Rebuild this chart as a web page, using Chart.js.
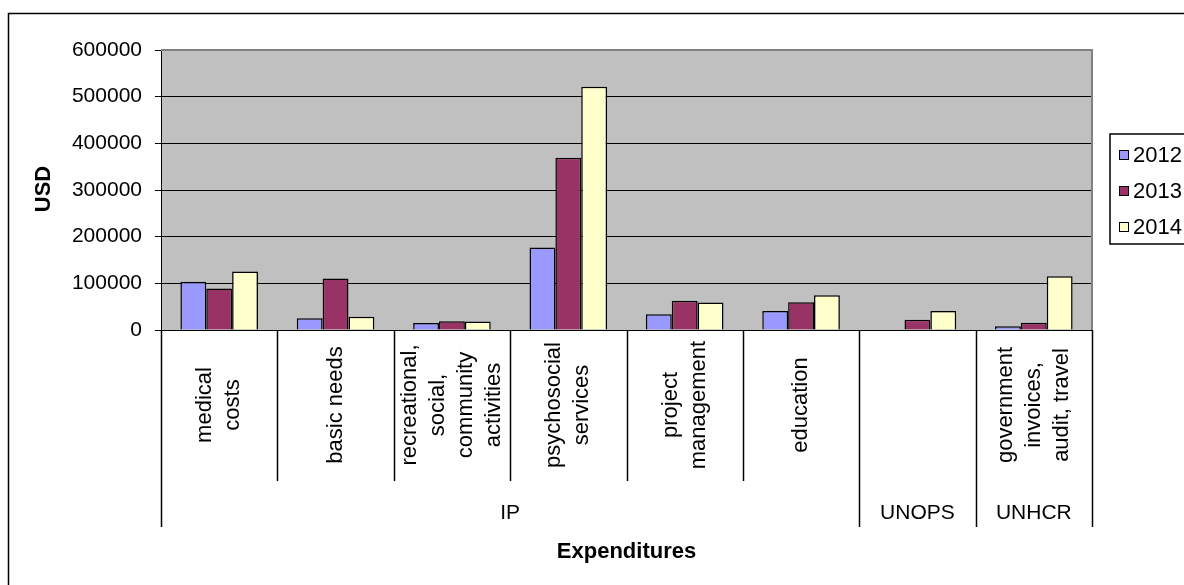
<!DOCTYPE html>
<html>
<head>
<meta charset="utf-8">
<script src="https://cdn.jsdelivr.net/npm/chart.js@4.4.1/dist/chart.umd.min.js"></script>
<style>
  html, body { margin: 0; padding: 0; background: #fff; }
  #wrap { width: 1184px; height: 585px; }
</style>
</head>
<body>
<div id="wrap"><canvas id="myChart" width="1184" height="585"></canvas></div>
<script>
// expenditure lines, one entry per category (lines of the rotated label)
const categories = [
  ['medical', 'costs'],
  ['basic needs'],
  ['recreational,', 'social,', 'community', 'activities'],
  ['psychosocial', 'services'],
  ['project', 'management'],
  ['education'],
  [],
  ['government', 'invoices,', 'audit, travel']
];
// who spent it, and how many categories each one covers
const groups = ['IP', 'UNOPS', 'UNHCR'];
const groupSpans = [6, 1, 1];

const years = ['2012', '2013', '2014'];
const usd2012 = [103500, 25000, 15000, 177000, 33500, 40500, null, 8000];
const usd2013 = [89000, 110500, 18500, 369000, 62500, 59500, 22000, 15500];
const usd2014 = [125500, 28500, 18000, 521500, 59000, 74500, 40500, 115000];

const yTicks = [0, 100000, 200000, 300000, 400000, 500000, 600000];

const colors = ['#9999FF', '#993366', '#FFFFCC'];
const FONT = "'Liberation Sans', Arial, sans-serif";

Chart.defaults.font.family = FONT;
Chart.defaults.color = '#000';

const plotBg = {
  id: 'plotBg',
  beforeDraw(chart) {
    const {ctx, chartArea: a} = chart;
    ctx.save();
    ctx.fillStyle = '#C0C0C0';
    ctx.fillRect(a.left, a.top, a.right - a.left, a.bottom - a.top);
    ctx.restore();
  },
  afterDatasetsDraw(chart) {
    const {ctx, chartArea: a} = chart;
    ctx.save();
    ctx.strokeStyle = '#808080';
    ctx.lineWidth = 2;
    ctx.beginPath();
    ctx.moveTo(a.left, a.top);
    ctx.lineTo(a.right, a.top);
    ctx.lineTo(a.right, a.bottom);
    ctx.stroke();
    ctx.restore();
  }
};

// two-level category axis: rotated item labels, then the spender row
const groupedAxis = {
  id: 'groupedAxis',
  afterDraw(chart) {
    const {ctx, chartArea: a} = chart;
    const x = chart.scales.x;
    const step = x.getPixelForValue(1) - x.getPixelForValue(0);
    const rowBottom = a.bottom + 151;
    const groupBottom = 527;
    const lh = 28;

    ctx.save();
    ctx.fillStyle = '#000';
    ctx.strokeStyle = '#000';
    ctx.lineWidth = 1.5;

    // item labels
    ctx.font = '22px ' + FONT;
    ctx.textAlign = 'center';
    ctx.textBaseline = 'middle';
    categories.forEach((lines, i) => {
      const cx = x.getPixelForValue(i);
      lines.forEach((txt, k) => {
        const off = (k - (lines.length - 1) / 2) * lh;
        ctx.save();
        ctx.translate(cx + off, 405);
        ctx.rotate(-Math.PI / 2);
        ctx.fillText(txt, 0, 0);
        ctx.restore();
      });
    });

    // separators
    const groupEdges = [0];
    groupSpans.forEach(s => groupEdges.push(groupEdges[groupEdges.length - 1] + s));
    for (let i = 0; i <= categories.length; i++) {
      const px = Math.round(x.getPixelForValue(i) - step / 2) + 0.5;
      const bottom = groupEdges.includes(i) ? groupBottom : rowBottom;
      ctx.beginPath();
      ctx.moveTo(px, a.bottom);
      ctx.lineTo(px, bottom);
      ctx.stroke();
    }

    // group labels
    ctx.font = '21px ' + FONT;
    groups.forEach((g, j) => {
      const first = groupEdges[j];
      const last = groupEdges[j + 1] - 1;
      const gx = (x.getPixelForValue(first) + x.getPixelForValue(last)) / 2;
      ctx.fillText(g, gx, 513);
    });

    // axis titles
    ctx.font = 'bold 22px ' + FONT;
    ctx.fillText('Expenditures', (a.left + a.right) / 2, 552);
    ctx.save();
    ctx.translate(44, 189);
    ctx.rotate(-Math.PI / 2);
    ctx.fillText('USD', 0, 0);
    ctx.restore();

    // x axis line
    ctx.lineWidth = 1;
    ctx.beginPath();
    ctx.moveTo(a.left, a.bottom + 0.5);
    ctx.lineTo(a.right, a.bottom + 0.5);
    ctx.stroke();
    ctx.restore();
  }
};

const boxLegend = {
  id: 'boxLegend',
  afterDraw(chart) {
    const {ctx} = chart;
    ctx.save();
    ctx.fillStyle = '#fff';
    ctx.strokeStyle = '#000';
    ctx.lineWidth = 1.5;
    ctx.fillRect(1110, 134, 100, 110);
    ctx.strokeRect(1110, 134, 100, 110);
    ctx.font = '22px ' + FONT;
    ctx.textAlign = 'left';
    ctx.textBaseline = 'middle';
    const rows = [155, 191, 227];
    years.forEach((yr, i) => {
      ctx.fillStyle = colors[i];
      ctx.fillRect(1119.5, rows[i] - 4.5, 9, 9);
      ctx.lineWidth = 1;
      ctx.strokeRect(1119.5, rows[i] - 4.5, 9, 9);
      ctx.fillStyle = '#000';
      ctx.fillText(yr, 1133, rows[i] + 1);
    });

    // outer chart frame
    ctx.lineWidth = 1.5;
    ctx.strokeRect(8.5, 13.5, 1300, 700);
    ctx.restore();
  }
};

const seriesData = [usd2012, usd2013, usd2014];

new Chart(document.getElementById('myChart'), {
  type: 'bar',
  data: {
    labels: categories.map(l => l.join(' ')),
    datasets: years.map((yr, i) => ({
      label: yr,
      data: seriesData[i],
      backgroundColor: colors[i],
      borderColor: '#000',
      borderWidth: 1.5,
      categoryPercentage: 3 / 4.5,
      barPercentage: 1
    }))
  },
  options: {
    responsive: false,
    devicePixelRatio: 1,
    animation: false,
    layout: { padding: { left: 0, top: 50, right: 92, bottom: 0 } },
    plugins: { legend: { display: false }, tooltip: { enabled: false } },
    scales: {
      x: {
        grid: { display: false },
        border: { display: true, color: '#000', width: 1 },
        ticks: { display: false },
        afterFit(scale) { scale.height = 255; }
      },
      y: {
        min: 0,
        max: 600000,
        afterBuildTicks(scale) { scale.ticks = yTicks.map(v => ({value: v})); },
        grid: { color: '#000', lineWidth: 1, tickLength: 6, drawTicks: true },
        border: { display: true, color: '#000', width: 1 },
        ticks: {
          padding: 13,
          font: { size: 21 },
          color: '#000',
          callback: v => String(v)
        },
        afterFit(scale) { scale.width = 161; }
      }
    }
  },
  plugins: [plotBg, groupedAxis, boxLegend]
});
</script>
</body>
</html>
